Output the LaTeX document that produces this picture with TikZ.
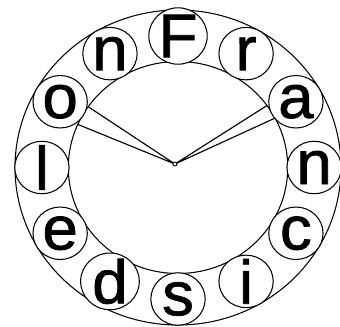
\documentclass[tikz,border=0pt]{standalone}
\usepackage{fontspec}
\setmainfont{Liberation Sans}
\newfontfamily\letterfont[FakeBold=1.2]{Liberation Sans}
\usetikzlibrary{positioning}

\tikzset{
  ring/.style={line width=.6pt},
  letter/.style={circle,draw,fill=white,line width=.6pt,inner sep=0pt,
    minimum size=1.05cm,transform shape,font=\letterfont\fontsize{35}{35}\selectfont},
  hand/.style={line width=.65pt},
}

\begin{document}
\begin{tikzpicture}[x=0.02cm,y=0.02cm,xscale=1.035]
\useasboundingbox (-172,-158.5) rectangle (156.5,167.5);
% dial
\draw[ring] (0,0) circle (157.5);
\draw[ring] (0,0) circle (106);
% hands
\coordinate (t1) at (145:106);
\coordinate (t2) at (156:106);
\coordinate (t3) at (35.8:106);
\coordinate (t4) at (27.8:106);
\coordinate (hub) at (-3,3.5);
\draw[hand] (t1)--(hub)--(t2);
\draw[hand] (t3)--(hub)--(t4);
\node[circle,draw,fill=white,inner sep=0pt,minimum size=0.08cm,line width=.5pt] (pin) at (hub) {};
% letters
\node[letter] (l1) at (90:131.5) {F};
\node[letter] (l2) at (60:131.5) {r};
\node[letter] (l3) at (30:131.5) {a};
\node[letter] (l4) at (0:131.5) {n};
\node[letter] (l5) at (-30:131.5) {c};
\node[letter] (l6) at (-60:131.5) {i};
\node[letter] (l7) at (-90:131.5) {s};
\node[letter] (l8) at (-120:131.5) {d};
\node[letter] (l9) at (-150:131.5) {e};
\node[letter] (l10) at (180:131.5) {l};
\node[letter] (l11) at (150:131.5) {o};
\node[letter] (l12) at (120:131.5) {n};
\end{tikzpicture}
\end{document}
